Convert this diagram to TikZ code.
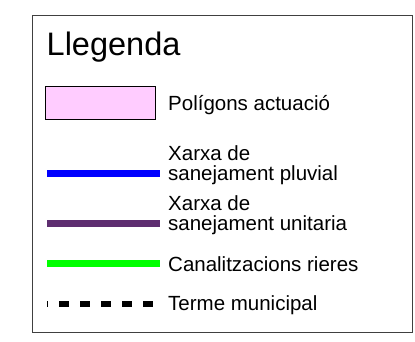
\documentclass[tikz,border=0pt]{standalone}
\usepackage{fontspec}
\setmainfont{Liberation Sans}
\definecolor{rosa}{RGB}{255,204,255}
\definecolor{pluvial}{RGB}{0,0,255}
\definecolor{unitaria}{RGB}{94,46,112}
\definecolor{riera}{RGB}{0,255,0}
\begin{document}
\begin{tikzpicture}[x=1pt,y=1pt,yscale=-1,xscale=1,
  etiqueta/.style={anchor=base west,inner sep=0pt,align=left,font=\fontsize{20.5}{20}\selectfont},
  traca/.style={line width=7pt}]
\useasboundingbox (0,0) rectangle (415,341);

%Shape: Rectangle [frame]
\draw [color=black!75,line width=1.2pt] (32.5,15.5) rectangle (412.5,332.5) ;
%Title
\node [etiqueta,font=\fontsize{32.5}{32}\selectfont] (titol) at (46.5,55) {Llegenda};

%Shape: Rectangle [poligons]
\draw [fill=rosa,line width=1pt] (45.5,86.5) rectangle (155.5,119) ;
\node [etiqueta] (poligons) at (168,110) {Polígons actuació};

%Straight Lines [pluvial]
\draw [traca,color=pluvial] (47,173.5) -- (160,173.5) ;
\node [etiqueta] (pluvial) at (168,180.7) {Xarxa de\\sanejament pluvial};

%Straight Lines [unitaria]
\draw [traca,color=unitaria] (47,223.3) -- (160,223.3) ;
\node [etiqueta] (unitaria) at (168,230.7) {Xarxa de\\sanejament unitaria};

%Straight Lines [rieres]
\draw [traca,color=riera] (47,263.7) -- (160,263.7) ;
\node [etiqueta] (rieres) at (168,271.7) {Canalitzacions rieres};

%Straight Lines [terme]
\draw [line width=6pt,dash pattern=on 10pt off 11pt,dash phase=9pt] (47,304) -- (155,304) ;
\node [etiqueta] (terme) at (168,310) {Terme municipal};

\end{tikzpicture}
\end{document}
